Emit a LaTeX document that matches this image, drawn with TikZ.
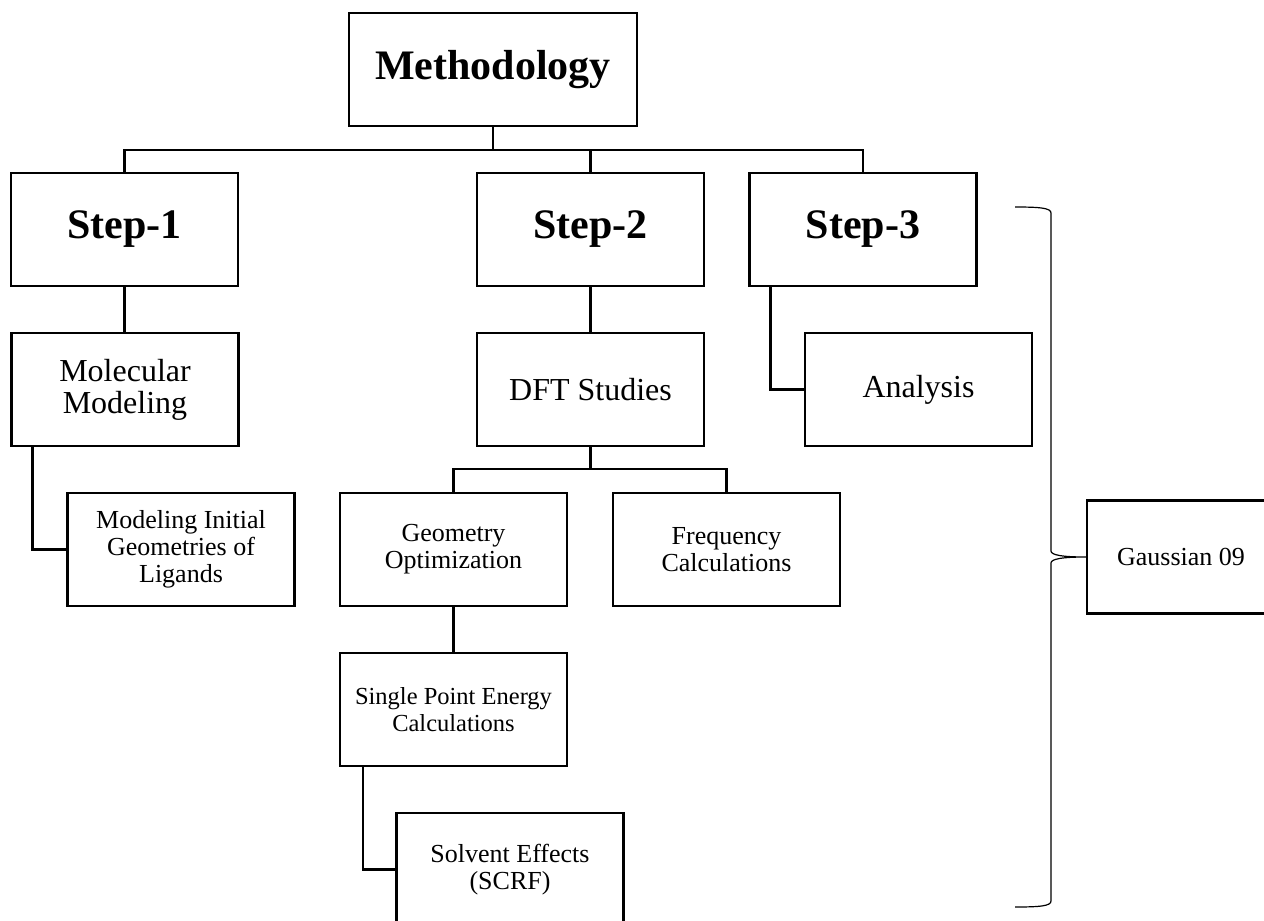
\documentclass[tikz,border=0pt]{standalone}
\usepackage{fontspec}
\setmainfont{Liberation Serif}
\usetikzlibrary{positioning}

\begin{document}
\begin{tikzpicture}[x=1pt, y=-1pt, line width=2.2pt,
    box/.style={draw, align=center, inner sep=0pt, minimum width=227pt, minimum height=113pt},
    head/.style={box, font=\fontsize{42}{46}\selectfont\bfseries},
    mid/.style={box, font=\fontsize{32}{32}\selectfont},
    sub/.style={box, font=\fontsize{26}{27}\selectfont}]
    \clip (0,0) rectangle (1264,921);
    % boxes
    \node[head, minimum width=288pt] (meth) at (493,69.5) {Methodology};
    \node[head] (step1) at (124.5,229.5) {Step-1};
    \node[head] (step2) at (590.5,229.5) {Step-2};
    \node[head] (step3) at (863,229.5) {Step-3};
    \node[mid] (molmod) at (125,389.5) {Molecular\\Modeling};
    \node[sub] (initgeo) at (181,549.5) {Modeling Initial\\Geometries of\\Ligands};
    \node[mid] (dft) at (590.5,389.5) {DFT Studies};
    \node[mid] (analysis) at (918.5,389.5) {Analysis};
    \node[sub] (geoopt) at (453.5,549.5) {Geometry\\Optimization};
    \node[sub] (freq) at (726.5,549.5) {Frequency\\Calculations};
    \node[sub, font=\fontsize{24.5}{27}\selectfont] (spe) at (453.5,709.5) {Single Point Energy\\Calculations};
    \node[sub] (solv) at (510,869.5) {Solvent Effects\\(SCRF)};
    \node[sub, minimum width=188pt] (gauss) at (1181,557) {Gaussian 09};
    % tree lines
    \coordinate (bus) at (0,150);
    \coordinate (bus2) at (0,469);
    \draw (meth.south) -- (meth.south |- bus);
    \draw (step1.north) -- (step1.north |- bus) -- (step3.north |- bus) -- (step3.north);
    \draw (step2.north) -- (step2.north |- bus);
    \draw (step1.south) -- (step1.south |- molmod.north);
    \draw ([xshift=22pt]molmod.south west) |- (initgeo.west);
    \draw (step2.south) -- (dft.north);
    \draw (dft.south) -- (dft.south |- bus2);
    \draw (geoopt.north) -- (geoopt.north |- bus2) -- (freq.north |- bus2) -- (freq.north);
    \draw (geoopt.south) -- (spe.north);
    \draw ([xshift=24pt]spe.south west) |- (solv.west);
    \draw ([xshift=22pt]step3.south west) |- (analysis.west);
    % brace
    \draw[line width=1.2pt] (1015,207) .. controls (1040,207) and (1051,208) .. (1051,213) -- (1051,551)
        .. controls (1051,555) and (1062,557) .. (gauss.west)
        .. controls (1062,557) and (1051,559) .. (1051,563) -- (1051,901)
        .. controls (1051,906) and (1040,907) .. (1015,907);
\end{tikzpicture}
\end{document}
